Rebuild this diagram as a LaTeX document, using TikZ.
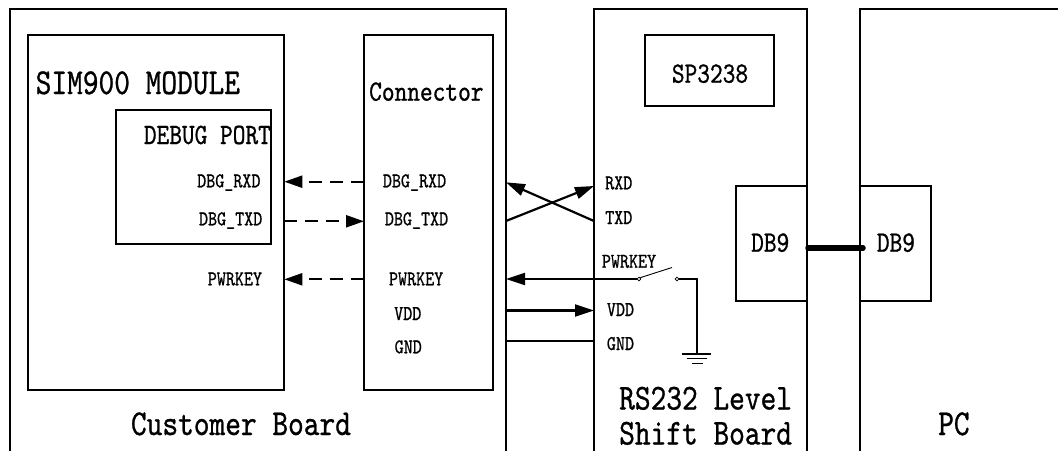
\documentclass[tikz,border=0pt]{standalone}
\usepackage{fontspec}
\usetikzlibrary{arrows.meta}
\newfontfamily\lmm[FakeStretch=0.82,FakeBold=0.8]{lmmono10-regular.otf}
\begin{document}
\begin{tikzpicture}[x=1pt,y=-1pt,
  box/.style={draw, line width=2pt, rectangle, inner sep=0pt, outer sep=0pt, anchor=north west},
  bigtxt/.style={font=\lmm\fontsize{36.5}{40}\selectfont, inner sep=0pt, anchor=base west},
  midtxt/.style={font=\lmm\fontsize{29.5}{32}\selectfont, inner sep=0pt, anchor=base west},
  smalltxt/.style={font=\lmm\fontsize{21}{24}\selectfont, inner sep=0pt, anchor=base west},
  darr/.style={line width=2.2pt, dash pattern=on 13pt off 8pt, -{Triangle[length=18pt,width=12pt]}},
  sarr/.style={line width=2.2pt, -{Triangle[length=19pt,width=12pt]}},
  pin/.style={circle, draw, line width=0.8pt, minimum size=3.8pt, inner sep=0pt, outer sep=0pt}]
\useasboundingbox (0,0) rectangle (1058,450);
\clip (0,0) rectangle (1058,450);
% boards and blocks
\node[box, minimum width=496.5pt, minimum height=470pt] (cb) at (9.5,9) {};
\node[box, minimum width=256.6pt, minimum height=355pt] (sim) at (27.7,35) {};
\node[box, minimum width=154.8pt, minimum height=133.7pt] (dbg) at (116,110.3) {};
\node[box, minimum width=128.6pt, minimum height=355pt] (conn) at (364,35) {};
\node[box, minimum width=213pt, minimum height=470pt] (rs) at (594,9) {};
\node[box, minimum width=129pt, minimum height=71pt] (sp) at (645,35) {};
\node[box, minimum width=71pt, minimum height=115pt] (db1) at (736,186) {};
\node[box, minimum width=240pt, minimum height=470pt] (pc) at (860,9) {};
\node[box, minimum width=71pt, minimum height=115pt] (db2) at (860,186) {};
% texts
\node[bigtxt] (tsim) at (35.5,94) {SIM900 MODULE};
\node[bigtxt] (tcb) at (130.8,435) {Customer Board};
\node[bigtxt] (trs1) at (619,409.5) {RS232 Level};
\node[bigtxt] (trs2) at (619,444.5) {Shift Board};
\node[bigtxt] (tpc) at (938,435) {PC};
\node[midtxt] (tconn) at (369,100.7) {Connector};
\node[midtxt] (tdbg) at (143.7,144) {DEBUG PORT};
\node[midtxt] (tsp) at (671.7,82.7) {SP3238};
\node[midtxt] (tdb1) at (751,251.7) {DB9};
\node[midtxt] (tdb2) at (876.7,251.7) {DB9};
\node[smalltxt] (l1) at (197,187.3) {DBG\_RXD};
\node[smalltxt] (l2) at (198.8,225.3) {DBG\_TXD};
\node[smalltxt] (l3) at (207.6,285.3) {PWRKEY};
\node[smalltxt] (c1) at (382.7,187.3) {DBG\_RXD};
\node[smalltxt] (c2) at (384.7,225.3) {DBG\_TXD};
\node[smalltxt] (c3) at (388.8,285.3) {PWRKEY};
\node[smalltxt] (c4) at (394,320) {VDD};
\node[smalltxt] (c5) at (394.5,353.3) {GND};
\node[smalltxt] (r1t) at (605,189.3) {RXD};
\node[smalltxt] (r2t) at (605,224) {TXD};
\node[smalltxt] (r3t) at (601.7,267.7) {PWRKEY};
\node[smalltxt] (r4t) at (606.7,316) {VDD};
\node[smalltxt] (r5t) at (606.7,350) {GND};
% level coordinates
\coordinate (yr) at (0,181.7);
\coordinate (yt) at (0,221.3);
\coordinate (yp) at (0,279.3);
\coordinate (xa) at (0,221);
\coordinate (xb) at (0,186);
\coordinate (xc) at (0,182.3);
\coordinate (yv) at (0,310.5);
\coordinate (yg) at (0,341);
\coordinate (yk) at (0,248);
% dashed debug links
\draw[darr] (conn.west |- yr) -- (sim.east |- yr);
\draw[darr] (sim.east |- yt) -- (conn.west |- yt);
\draw[darr] (conn.west |- yp) -- (sim.east |- yp);
% crossed RX/TX
\draw[sarr] (cb.east |- xa) -- (rs.west |- xb);
\draw[sarr] (rs.west |- xa) -- (cb.east |- xc);
% power key switch
\node[pin] (s1) at (639,279) {};
\node[pin] (s2) at (677,279) {};
\coordinate (blade) at (672,267.5);
\coordinate (gc) at (697,279);
\coordinate (gm) at (697,293);
\coordinate (g) at (697,354);
\draw[sarr] (s1.west) -- (cb.east |- s1);
\draw[line width=0.9pt] (s1.north east) -- (blade);
\draw[line width=1.5pt] (s2.east) -- (gc) -- (gm);
\draw[line width=1.1pt] (gm) -- (g);
\draw[line width=1.1pt] (g) ++(-15,0) -- ++(29,0);
\draw[line width=1.1pt] (g) ++(-10.5,4.7) -- ++(20,0);
\draw[line width=1.1pt] (g) ++(-5.5,9.2) -- ++(11,0);
% VDD and GND
\draw[sarr] (cb.east |- yv) -- (rs.west |- yv);
\draw[line width=2.2pt] (cb.east |- yg) -- (rs.west |- yg);
% DB9 cable
\draw[line width=5.5pt, line cap=round] ([xshift=1pt]db1.east |- yk) -- ([xshift=3pt]db2.west |- yk);
\end{tikzpicture}
\end{document}
